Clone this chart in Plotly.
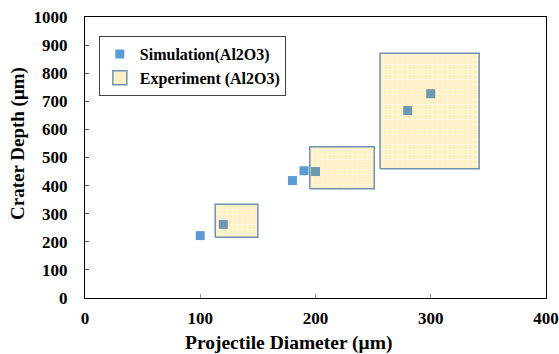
import plotly.graph_objects as go

# Simulation data
sim_x = [100, 120, 180, 190, 200, 280, 300]
sim_y = [222, 262, 418, 453, 450, 667, 727]

# Experiment ranges (rectangles)
exp_x0 = [113, 195, 256]
exp_x1 = [150, 251, 342]
exp_y0 = [216, 389, 460]
exp_y1 = [334, 538, 871]

x_ticks = [0, 100, 200, 300, 400]
y_ticks = [0, 100, 200, 300, 400, 500, 600, 700, 800, 900, 1000]

FONT = "Liberation Serif, Times New Roman, serif"
BLUE = "#5B9BD5"
BLUE_IN_BOX = "#6C98B0"
BOX_LINE = "#7090B0"

fig = go.Figure()

# experiment boxes (drawn underneath)
bx, by = [], []
for a, b, c, d in zip(exp_x0, exp_x1, exp_y0, exp_y1):
    bx += [a, b, b, a, a, None]
    by += [c, c, d, d, c, None]

fig.add_trace(go.Scatter(
    x=bx, y=by, mode="lines", fill="toself", showlegend=False,
    line=dict(color=BOX_LINE, width=1.5),
    fillcolor="#FFF1C8",
    fillpattern=dict(shape="+", bgcolor="#FFF0C4",
                     fgcolor="#FFFCF2", size=5, solidity=0.35),
    hoverinfo="skip",
))

def inside(x, y):
    return any(a <= x <= b and c <= y <= d
               for a, b, c, d in zip(exp_x0, exp_x1, exp_y0, exp_y1))

sim_colors = [BLUE_IN_BOX if inside(x, y) else BLUE for x, y in zip(sim_x, sim_y)]

fig.add_trace(go.Scatter(
    x=sim_x, y=sim_y, mode="markers", name="<b>Simulation(Al2O3)</b>",
    marker=dict(symbol="square", size=9, color=sim_colors, line=dict(width=0)),
))

# legend entry for experiment
fig.add_trace(go.Scatter(
    x=[None], y=[None], mode="markers", name="<b>Experiment (Al2O3)</b>",
    marker=dict(symbol="square", size=14, color="#FFF0C4",
                line=dict(color=BOX_LINE, width=1.5)),
))

fig.update_layout(
    width=559, height=354,
    margin=dict(l=85, r=13, t=17, b=56, autoexpand=False),
    paper_bgcolor="white", plot_bgcolor="white",
    font=dict(family=FONT, size=16, color="black"),
    showlegend=True,
    legend=dict(
        x=0.03, y=0.932, xanchor="left", yanchor="top",
        bgcolor="white", bordercolor="#404040", borderwidth=1,
        font=dict(family=FONT, size=16, color="black"),
        tracegroupgap=0, itemwidth=30,
    ),
    xaxis=dict(
        range=[0, 400], tickvals=x_ticks, ticktext=[f"<b>{v}</b>" for v in x_ticks],
        showgrid=False, zeroline=False, automargin=False,
        showline=True, linecolor="black", linewidth=1.2, mirror=True,
        ticks="inside", ticklen=4, tickcolor="#999999",
        tickfont=dict(family=FONT, size=17), ticklabelstandoff=4,
        ticklabeloverflow="allow",
    ),
    yaxis=dict(
        range=[0, 1000], tickvals=y_ticks, ticktext=[f"<b>{v}</b>" for v in y_ticks],
        showgrid=False, zeroline=False, automargin=False,
        showline=True, linecolor="black", linewidth=1.2, mirror=True,
        ticks="inside", ticklen=4, tickcolor="#555555",
        tickfont=dict(family=FONT, size=17), ticklabelstandoff=13,
        ticklabeloverflow="allow",
    ),
    annotations=[
        dict(text="<b>Projectile Diameter (μm)</b>", xref="paper", yref="paper",
             x=(288 - 85) / 461, y=-(343 - 298) / 281, xanchor="center", yanchor="middle",
             showarrow=False, font=dict(family=FONT, size=19.5)),
        dict(text="<b>Crater Depth (μm)</b>", xref="paper", yref="paper",
             x=-(85 - 18) / 461, y=(298 - 144) / 281, xanchor="center", yanchor="middle",
             textangle=-90, showarrow=False, font=dict(family=FONT, size=19)),
    ],
)

fig.write_html("out.html")
